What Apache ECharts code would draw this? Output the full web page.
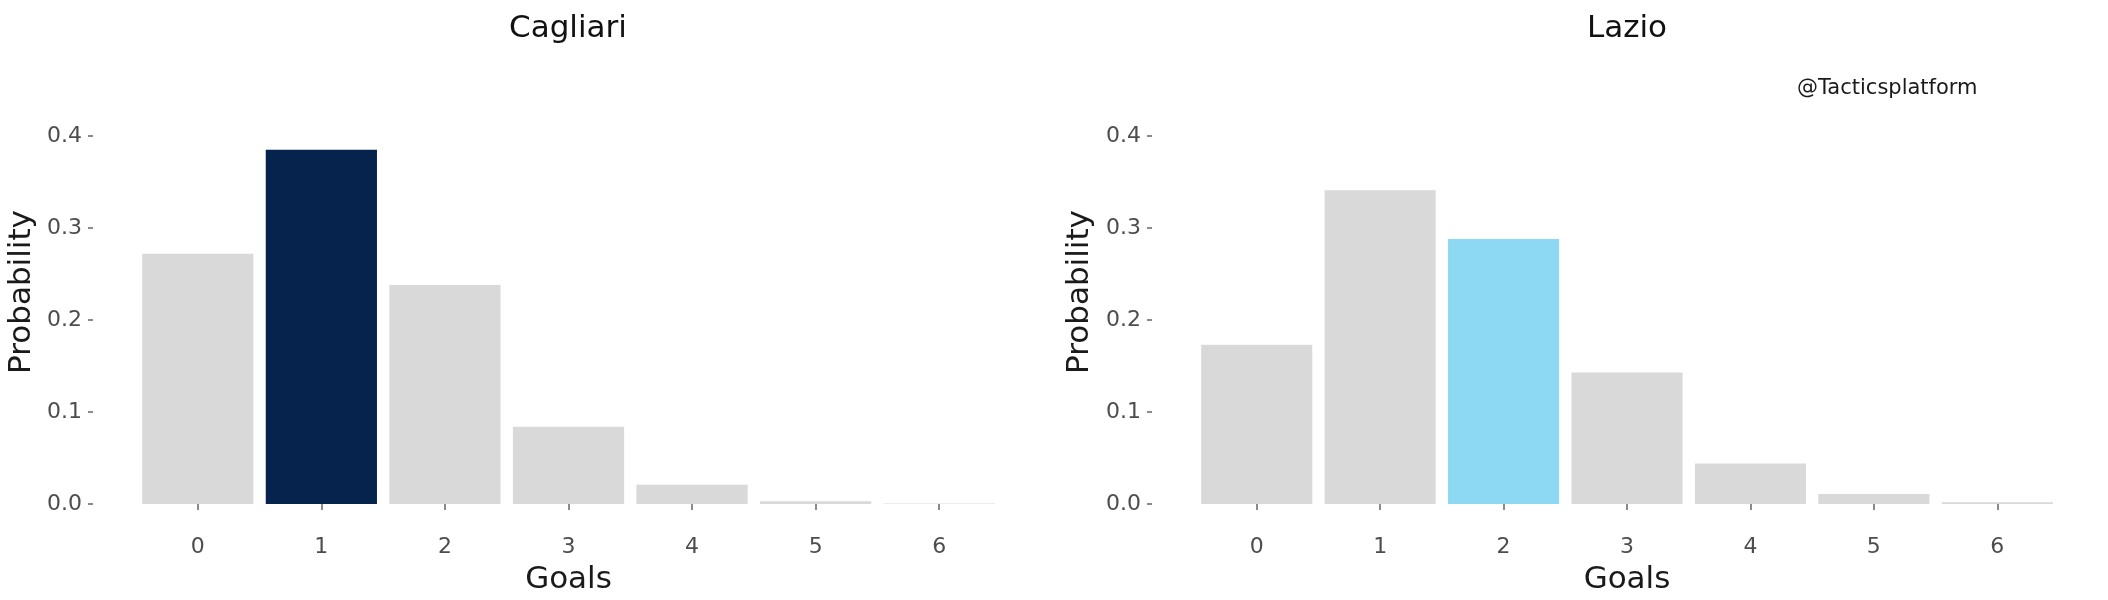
<!DOCTYPE html>
<html>
<head>
<meta charset="utf-8">
<title>Goals probability</title>
<script src="https://cdn.jsdelivr.net/npm/echarts@6/dist/echarts.min.js"></script>
<style>
  html, body { margin: 0; padding: 0; background: #fff; }
  #chart { width: 2108px; height: 600px; }
</style>
</head>
<body>
<div id="chart"></div>
<script>
// goals axis
var goals = ['0', '1', '2', '3', '4', '5', '6'];
// probability per number of goals
var cagliariProb = [0.272, 0.385, 0.238, 0.084, 0.021, 0.003, 0.0006];
var lazioProb = [0.173, 0.341, 0.288, 0.143, 0.044, 0.011, 0.002];
var yTicks = [0, 0.1, 0.2, 0.3, 0.4];
// most likely score gets the team colour
var cagliariPick = 1;
var lazioPick = 2;

var FONT = 'DejaVu Sans';
var GREY = '#d9d9d9';

function barData(values, pick, color) {
    return values.map(function (v, i) {
        return { value: v, itemStyle: { color: i === pick ? color : GREY } };
    });
}

function xAxisFor(idx) {
    return {
        type: 'category',
        gridIndex: idx,
        data: goals,
        offset: 21,
        axisLine: { show: false },
        axisTick: { show: true, alignWithLabel: true, length: 6, lineStyle: { color: '#666', width: 1.5 } },
        axisLabel: { margin: 11, fontSize: 22, color: '#4d4d4d', fontFamily: FONT },
        name: 'Goals',
        nameLocation: 'middle',
        nameGap: 39,
        nameTextStyle: { fontSize: 31, color: '#1a1a1a', fontFamily: FONT },
        splitLine: { show: false }
    };
}

function yAxisFor(idx) {
    return {
        type: 'value',
        gridIndex: idx,
        min: yTicks[0],
        max: yTicks[yTicks.length - 1],
        interval: 0.1,
        offset: 43,
        axisLine: { show: false },
        axisTick: { show: true, length: 5, lineStyle: { color: '#666', width: 1.5 } },
        axisLabel: {
            margin: 11, fontSize: 22, color: '#4d4d4d', fontFamily: FONT,
            formatter: function (v) { return v.toFixed(1); }
        },
        splitLine: { show: false }
    };
}

var myChart = echarts.init(document.getElementById('chart'));

var option = {
    backgroundColor: '#fff',
    animation: false,
    title: [
        {
            text: 'Cagliari', left: 568, top: 13, textAlign: 'center', padding: 0,
            textStyle: { fontSize: 31, fontWeight: 'normal', color: '#111', fontFamily: FONT }
        },
        {
            text: 'Lazio', left: 1627, top: 13, textAlign: 'center', padding: 0,
            textStyle: { fontSize: 31, fontWeight: 'normal', color: '#111', fontFamily: FONT }
        }
    ],
    grid: [
        { left: 136, top: 136, width: 865, height: 370 },
        { left: 1195, top: 136, width: 864, height: 370 }
    ],
    xAxis: [xAxisFor(0), xAxisFor(1)],
    yAxis: [yAxisFor(0), yAxisFor(1)],
    graphic: [
        {
            type: 'text', x: 22, y: 292, rotation: Math.PI / 2,
            style: { text: 'Probability', fontSize: 31, fill: '#1a1a1a', fontFamily: FONT, align: 'center', verticalAlign: 'middle' }
        },
        {
            type: 'text', x: 1080, y: 292, rotation: Math.PI / 2,
            style: { text: 'Probability', fontSize: 31, fill: '#1a1a1a', fontFamily: FONT, align: 'center', verticalAlign: 'middle' }
        },
        {
            type: 'text', x: 1797, y: 89,
            style: { text: '@Tacticsplatform', fontSize: 21, fill: '#1a1a1a', fontFamily: FONT, align: 'left', verticalAlign: 'middle' }
        }
    ],
    series: [
        {
            name: 'Cagliari',
            type: 'bar',
            xAxisIndex: 0,
            yAxisIndex: 0,
            barCategoryGap: '10%',
            data: barData(cagliariProb, cagliariPick, '#05234c')
        },
        {
            name: 'Lazio',
            type: 'bar',
            xAxisIndex: 1,
            yAxisIndex: 1,
            barCategoryGap: '10%',
            data: barData(lazioProb, lazioPick, '#8dd9f3')
        }
    ]
};
myChart.setOption(option);
</script>
</body>
</html>
